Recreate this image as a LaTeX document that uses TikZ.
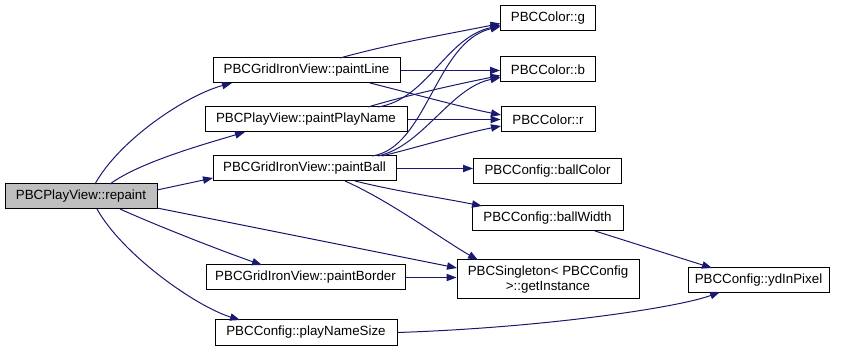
\documentclass[tikz,border=0pt]{standalone}
\usepackage{fontspec}
\setmainfont{Liberation Sans}
\usetikzlibrary{arrows.meta,calc}
\definecolor{calledge}{HTML}{191970}

\begin{document}
\begin{tikzpicture}[
  x=0.75pt,y=-0.75pt,
  fn/.style={draw=black, line width=0.75pt, fill=white, minimum height=18.75pt, inner sep=2pt, align=center, font=\fontsize{10pt}{11pt}\selectfont},
  root/.style={fn, fill=black!25},
  wd/.style={minimum width=#1*0.75pt},
  call/.style={-{Triangle[length=7.5pt,width=5.5pt]}, draw=calledge, color=calledge, line width=0.75pt}
]
\useasboundingbox (0,0) rectangle (845,352);
% caller and direct callees
\node[root, wd=152] (repaint) at (81,196.5) {PBCPlayView::repaint};
\node[fn, wd=187] (paintLine) at (306.5,70.5) {PBCGridIronView::paintLine};
\node[fn, wd=202] (paintPlayName) at (306,119.5) {PBCPlayView::paintPlayName};
\node[fn, wd=183] (paintBall) at (304.5,168.5) {PBCGridIronView::paintBall};
\node[fn, wd=199] (paintBorder) at (305.5,277.5) {PBCGridIronView::paintBorder};
\node[fn, wd=182] (playNameSize) at (306,332.5) {PBCConfig::playNameSize};
% second level
\node[fn, wd=95] (colorG) at (548,18.5) {PBCColor::g};
\node[fn, wd=95] (colorB) at (548,69.5) {PBCColor::b};
\node[fn, wd=94] (colorR) at (548,119.5) {PBCColor::r};
\node[fn, wd=148] (ballColor) at (547.5,171) {PBCConfig::ballColor};
\node[fn, wd=151] (ballWidth) at (547.5,218.5) {PBCConfig::ballWidth};
\node[fn, wd=182, minimum height=29.25pt] (getInstance) at (548,279.5) {PBCSingleton< PBCConfig\\>::getInstance};
\node[fn, wd=141] (ydInPixel) at (758.5,280) {PBCConfig::ydInPixel};

% edges from repaint
\draw[call] ($(repaint)+(14,-12.5)$) .. controls +(25,-45) and +(-45,12) .. ($(paintLine)+(-74.5,12.5)$);
\draw[call] ($(repaint)+(29,-12.5)$) .. controls +(30,-22) and +(-40,12) .. ($(paintPlayName)+(-61,12.5)$);
\draw[call] ($(repaint)+(76,-6.5)$) -- ($(paintBall)+(-91.5,9.5)$);
\draw[call] ($(repaint)+(76,11.5)$) -- ($(getInstance)+(-91,-11.5)$);
\draw[call] ($(repaint)+(39,12.5)$) .. controls +(40,18) and +(-40,-14) .. ($(paintBorder)+(-43.5,-12.5)$);
\draw[call] ($(repaint)+(16,12.5)$) .. controls +(25,45) and +(-45,-14) .. ($(playNameSize)+(-66,-12.5)$);

% edges from paintLine
\draw[call] ($(paintLine)+(33.5,-12.5)$) .. controls +(50,-14) and +(-50,10) .. ($(colorG)+(-47.5,5)$);
\draw[call] (paintLine.east) -- (paintLine.east -| colorB.west);
\draw[call] ($(paintLine)+(63.5,12.5)$) .. controls +(40,10) and +(-40,-8) .. ($(colorR)+(-47,-4.5)$);

% edges from paintPlayName
\draw[call] ($(paintPlayName)+(72,-12.5)$) .. controls +(50,-8) and +(-55,12) .. ($(colorG)+(-47.5,7)$);
\draw[call] ($(paintPlayName)+(62,-12.5)$) .. controls +(40,-12) and +(-40,8) .. ($(colorB)+(-47.5,6)$);
\draw[call] (paintPlayName.east) -- (paintPlayName.east -| colorR.west);

% edges from paintBall
\draw[call] ($(paintBall)+(67.5,-12.5)$) .. controls +(55,-8) and +(-65,15) .. ($(colorG)+(-47.5,8)$);
\draw[call] ($(paintBall)+(73.5,-12.5)$) .. controls +(45,-10) and +(-50,10) .. ($(colorB)+(-47.5,8)$);
\draw[call] ($(paintBall)+(77.5,-12.5)$) .. controls +(40,-10) and +(-40,8) .. ($(colorR)+(-47,6.5)$);
\draw[call] (paintBall.east) -- (paintBall.east -| ballColor.west);
\draw[call] ($(paintBall)+(50.5,12.5)$) .. controls +(40,10) and +(-40,-8) .. ($(ballWidth)+(-65.5,-12.5)$);
\draw[call] ($(paintBall)+(40.5,12.5)$) .. controls +(45,20) and +(-35,-20) .. ($(getInstance)+(-70,-19.5)$);

% remaining edges
\draw[call] (paintBorder.east) -- (paintBorder.east -| getInstance.west);
\draw[call] ($(ballWidth)+(47.5,12.5)$) -- ($(ydInPixel)+(-46.5,-12)$);
\draw[call] (playNameSize.east) .. controls +(150,-5) and +(-40,15) .. ($(ydInPixel)+(-38.5,12)$);
\end{tikzpicture}
\end{document}
